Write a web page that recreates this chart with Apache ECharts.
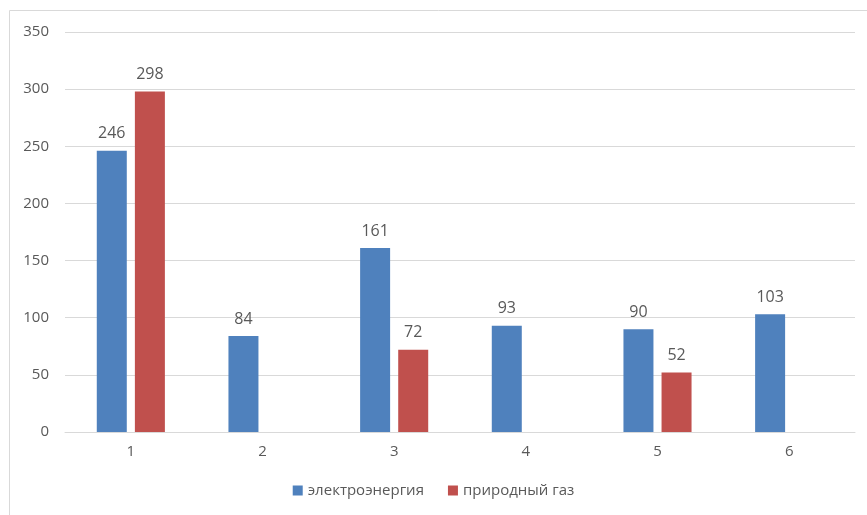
<!DOCTYPE html>
<html>
<head>
<meta charset="utf-8">
<script src="https://cdn.jsdelivr.net/npm/echarts@6/dist/echarts.min.js"></script>
<style>
  html, body { margin: 0; padding: 0; background: #fff; }
  #chart { width: 867px; height: 515px; }
</style>
</head>
<body>
<div id="chart"></div>
<script>
// данные
var categories = ['1', '2', '3', '4', '5', '6']
var electricity = [246, 84, 161, 93, 90, 103]
var naturalGas = [298, null, 72, null, 52, null]
var yTicks = { min: 0, max: 350, interval: 50 }

var textColor = '#595959'
var fontFamily = '"Open Sans", sans-serif'

var chart = echarts.init(document.getElementById('chart'))
chart.setOption({
  animation: false,
  textStyle: { fontFamily: fontFamily },
  graphic: [
    {
      type: 'rect',
      shape: { x: 9.5, y: 10.5, width: 900, height: 600 },
      style: { fill: 'none', stroke: '#d9d9d9', lineWidth: 1 },
      silent: true
    }
  ],
  grid: { left: 65, right: 12, top: 32, bottom: 83 },
  legend: {
    bottom: 12,
    left: 'center',
    itemWidth: 10,
    itemHeight: 10,
    itemGap: 24,
    icon: 'rect',
    textStyle: { color: textColor, fontSize: 15, fontFamily: fontFamily },
    data: ['электроэнергия', 'природный газ']
  },
  xAxis: {
    type: 'category',
    data: categories,
    axisLine: { lineStyle: { color: '#d9d9d9' } },
    axisTick: { show: false },
    axisLabel: { color: textColor, fontSize: 15, margin: 12, fontFamily: fontFamily }
  },
  yAxis: {
    type: 'value',
    min: yTicks.min,
    max: yTicks.max,
    interval: yTicks.interval,
    axisLine: { show: false },
    axisTick: { show: false },
    axisLabel: { color: textColor, fontSize: 15, margin: 16, fontFamily: fontFamily },
    splitLine: { lineStyle: { color: '#d9d9d9' } }
  },
  series: [
    {
      name: 'электроэнергия',
      type: 'bar',
      barWidth: 30,
      barGap: '27%',
      itemStyle: { color: '#4f81bd' },
      label: { show: true, position: 'top', distance: 9, color: textColor, fontSize: 16, fontFamily: fontFamily },
      data: electricity
    },
    {
      name: 'природный газ',
      type: 'bar',
      barWidth: 30,
      barGap: '27%',
      itemStyle: { color: '#c0504d' },
      label: { show: true, position: 'top', distance: 9, color: textColor, fontSize: 16, fontFamily: fontFamily },
      data: naturalGas
    }
  ]
})
</script>
</body>
</html>
